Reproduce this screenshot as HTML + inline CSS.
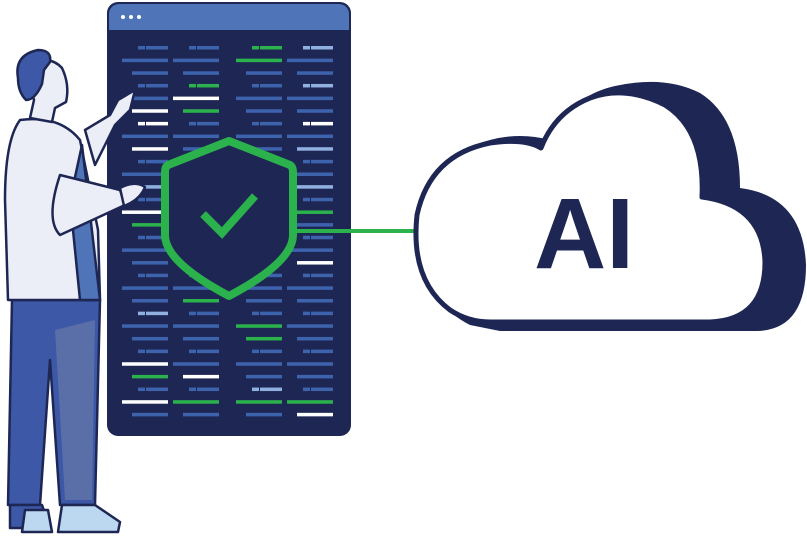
<!DOCTYPE html>
<html><head><style>body{margin:0;background:#fff;width:807px;height:540px;overflow:hidden}</style></head>
<body>
<svg id="s" width="807" height="540" viewBox="0 0 807 540" xmlns="http://www.w3.org/2000/svg">
<!-- panel -->
<rect x="107" y="2" width="244" height="434" rx="11" fill="#1e2754"/>
<path d="M109 30 V14 a10 10 0 0 1 10 -10 H339 a10 10 0 0 1 10 10 V30 Z" fill="#4f74b8"/>
<circle cx="123" cy="17" r="2" fill="#fff"/><circle cx="131" cy="17" r="2" fill="#fff"/><circle cx="139" cy="17" r="2" fill="#fff"/>
<g id="bars"></g>
<!-- connector -->
<line x1="296" y1="231" x2="418" y2="231" stroke="#2bb24c" stroke-width="4"/>
<!-- shield -->
<path d="M229 141 L290 165 Q293 167 293 172 V235 Q293 262 229 296 Q165 262 165 235 V172 Q165 167 168 165 Z" fill="#1e2754" stroke="#2bb24c" stroke-width="8" stroke-linejoin="round"/>
<path d="M203 214 L222 233 L255 196" fill="none" stroke="#2bb24c" stroke-width="8"/>
<!-- cloud shadow -->
<path d="M500 331 H758 Q806 329 806 265 Q803 196 740 188 Q740 118 700 93 Q665 75 615 86 Q570 96 550 140 Q520 132 490 140 Q430 155 420 230 Q420 300 470 325 Z" fill="#1e2754"/>
<!-- cloud -->
<path d="M490 322 H710 Q765 320 765 262 Q763 205 702 197 Q705 130 665 105 Q625 85 590 98 Q555 112 541 148 Q525 138 490 143 Q430 155 417 215 Q410 280 450 310 Q468 322 490 322 Z" fill="#fff" stroke="#1e2754" stroke-width="5" stroke-linejoin="round"/>
<text x="584" y="268" text-anchor="middle" font-family="Liberation Sans, sans-serif" font-weight="bold" font-size="100" fill="#1e2754">AI</text>
<!-- person -->
<g stroke="#1e2754" stroke-width="2.5" stroke-linejoin="round">
<path d="M12 300 L8 505 H40 L50 360 L60 505 H95 L100 300 Z" fill="#3c58a6"/>
<path d="M55 330 L65 500 H92 L95 320 Z" fill="#5a6ea8" stroke="none"/>
<path d="M10 505 H42 L50 528 H10 Z" fill="#3c58a6"/>
<path d="M25 510 L48 510 L52 532 H22 Z" fill="#bcd7f0"/>
<path d="M62 505 H95 L120 522 L118 532 H58 Z" fill="#bcd7f0"/>
<path d="M20 120 Q5 140 5 200 L8 300 H100 L98 230 L80 140 Q60 115 20 120 Z" fill="#eceef7"/>
<path d="M82 145 L100 300 L80 300 L70 200 Z" fill="#4f74b8"/>
<path d="M60 175 Q45 220 60 235 L125 205 L120 190 Z" fill="#eceef7"/>
<path d="M120 188 Q135 180 145 187 Q140 200 124 206 Z" fill="#eceef7"/>
<path d="M85 130 L110 115 L118 100 L135 90 L130 110 L115 125 L95 165 Z" fill="#eceef7"/>
<path d="M30 118 L34 100 Q28 80 36 65 Q50 55 62 68 Q70 85 66 102 L55 108 L52 122 Z" fill="#eceef7"/>
<path d="M18 78 Q14 55 38 50 Q52 50 50 62 L44 70 L42 84 Q35 100 26 100 Q18 92 18 78 Z" fill="#3c58a6"/>
</g>
</svg>
<script>
var g=document.getElementById('bars'),h='',cols=[[122,168],[173,219],[236,282],[287,333]];
var C={b:'#3e63ad',g:'#2bb24c',w:'#ffffff',l:'#8fb0e0'};
var seed=7;function r(){seed=(seed*9301+49297)%233280;return seed/233280;}
for(var i=0;i<30;i++){var y=46+i*12.65;for(var c=0;c<4;c++){var a=cols[c][0],b=cols[c][1],t=i%3,col='b',q=r();
if(q<.12)col='g';else if(q<.2)col='w';else if(q<.26)col='l';
if(t==0){h+='<rect x="'+(b-30)+'" y="'+y+'" width="7" height="3.5" fill="'+C[col]+'"/><rect x="'+(b-22)+'" y="'+y+'" width="22" height="3.5" fill="'+C[col]+'"/>';}
else if(t==1){h+='<rect x="'+a+'" y="'+y+'" width="'+(b-a)+'" height="3.5" fill="'+C[col]+'"/>';}
else{h+='<rect x="'+(a+10)+'" y="'+y+'" width="'+(b-a-10)+'" height="3.5" fill="'+C[col]+'"/>';}}}
g.innerHTML=h;
</script>
</body></html>
